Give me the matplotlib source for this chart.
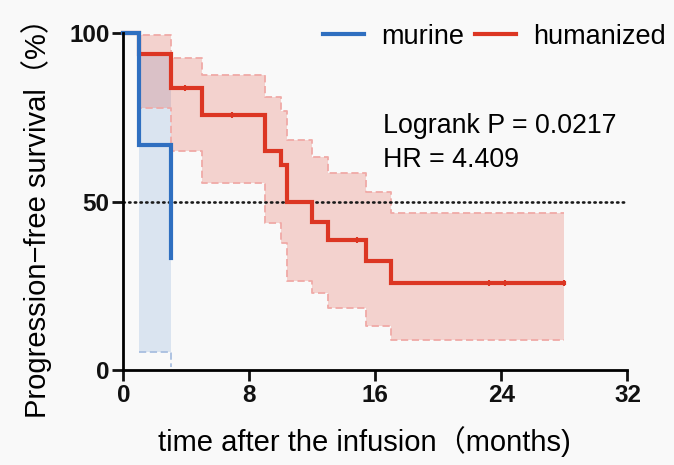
import matplotlib
matplotlib.use("Agg")
import matplotlib.pyplot as plt

plt.rcParams['font.family'] = ['Liberation Sans', 'Noto Sans CJK SC', 'DejaVu Sans']

# murine (blue) survival steps
murine_t = [0, 1, 3]
murine_s = [100, 66.7, 33.3]
murine_ci_t = [1, 3]
murine_lo = [5.4, 0.9]
murine_hi = [94.5, 77.4]

# humanized (red) survival steps
human_t = [0, 1, 3, 5, 9, 10, 10.4, 12, 13, 15.4, 17, 28]
human_s = [100, 93.8, 83.7, 75.8, 65.0, 60.9, 50.0, 44.1, 38.7, 32.3, 25.8, 25.8]
human_lo = [100, 77.7, 65.0, 55.5, 43.6, 37.7, 26.3, 22.8, 18.4, 13.0, 9.0, 9.0]
human_hi = [100, 99.5, 92.6, 87.6, 81.0, 76.8, 68.3, 63.4, 58.5, 53.0, 46.6, 46.6]
# censored marks on humanized curve
cens_t = [3.9, 6.9, 14.8, 23.2, 24.2, 28]
cens_s = [83.7, 75.8, 38.7, 25.8, 25.8, 25.8]

BLUE = '#2f6fc0'
RED = '#dc3623'
BG = '#f9f9f9'

fig = plt.figure(figsize=(6.74, 4.65), dpi=100, facecolor=BG)
ax = fig.add_axes([0.183, 0.2043, 0.748, 0.724], facecolor=BG)

# confidence bands
ax.fill_between(murine_ci_t, murine_lo, murine_hi, step='post',
                color=BLUE, alpha=0.15, linewidth=0)
ax.step(murine_ci_t, murine_lo, where='post', color='#a9bfe0', lw=1.3, ls=(0, (4, 2)))
ax.fill_between(human_t, human_lo, human_hi, step='post',
                color=RED, alpha=0.2, linewidth=0)
ax.step(human_t, human_lo, where='post', color='#f0aaa7', lw=1.3, ls=(0, (4, 2)))
ax.step(human_t, human_hi, where='post', color='#f0aaa7', lw=1.3, ls=(0, (4, 2)))

# median line
ax.plot([0, 32], [50, 50], color='#1a1a1a', lw=1.9, ls=(0, (0.5, 1.65)),
        dash_capstyle='round')

# survival curves
ax.step(human_t, human_s, where='post', color=RED, lw=3, label='humanized',
        clip_on=False, solid_joinstyle='miter')
ax.plot(cens_t, cens_s, ls='none', marker='|', ms=5, mew=1.5, color=RED)
ax.step(murine_t, murine_s, where='post', color=BLUE, lw=3, label='murine',
        clip_on=False, solid_joinstyle='miter')

ax.set_xlim(0, 32)
ax.set_ylim(0, 100)
ax.set_xticks([0, 8, 16, 24, 32])
ax.set_yticks([0, 50, 100])
for s in ['top', 'right']:
    ax.spines[s].set_visible(False)
for s in ['left', 'bottom']:
    ax.spines[s].set_linewidth(2)
ax.tick_params(width=2, length=8, pad=2, labelsize=17.5, colors='#111111')
for lab in ax.get_xticklabels() + ax.get_yticklabels():
    lab.set_fontweight('bold')

ax.set_xlabel('time after the infusion（months)', fontsize=21, va='center')
ax.xaxis.set_label_coords(0.479, -0.211)
ax.set_ylabel('Progression−free survival（%）', fontsize=21, va='center')
ax.yaxis.set_label_coords(-0.173, 0.472)

ax.text(16.46, 72.5, 'Logrank P = 0.0217', fontsize=19.3, va='center')
ax.text(16.46, 62.4, 'HR = 4.409', fontsize=19.3, va='center')

handles, labels = ax.get_legend_handles_labels()
ax.legend(handles[::-1], labels[::-1], loc='center left',
          bbox_to_anchor=(323 / 674, 1 - 36.7 / 465), bbox_transform=fig.transFigure,
          ncol=2, frameon=False, fontsize=19.5, handlelength=1.5, columnspacing=0.4,
          handletextpad=0.65, borderpad=0, borderaxespad=0)

fig.savefig('out.png', dpi=100, facecolor=BG)
